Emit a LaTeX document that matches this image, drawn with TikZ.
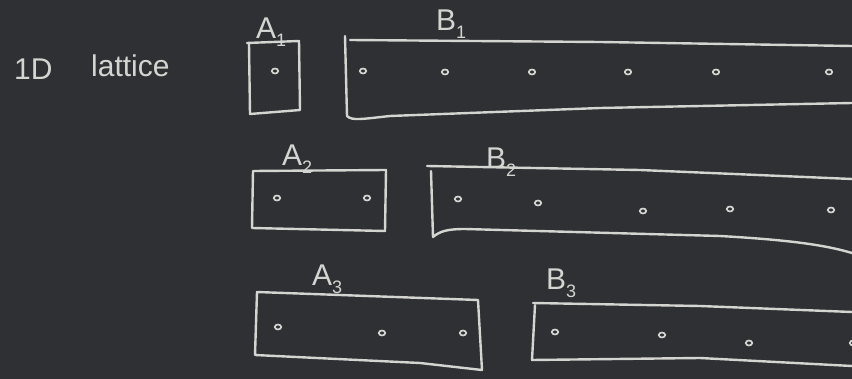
\documentclass[tikz,border=0pt]{standalone}
\usepackage{fontspec}
\setmainfont{Liberation Sans}
\definecolor{board}{RGB}{46,48,52}
\definecolor{chalk}{RGB}{212,213,208}
\newcommand{\chsub}[1]{\raisebox{-0.25em}{\fontsize{18}{19}\selectfont #1}}
\begin{document}
\begin{tikzpicture}[x=1pt,y=-1pt,
  chalkline/.style={draw=chalk, line width=2.4pt, line cap=round, line join=round},
  site/.style={draw=chalk, line width=1.7pt},
  lbl/.style={text=chalk, font=\fontsize{30}{32}\selectfont, inner sep=0pt, anchor=base west}]
\fill[board] (0,0) rectangle (852,379);
\useasboundingbox (0,0) rectangle (852,379);

% left text
\node[lbl] (oneD) at (14,80) {1D};
\node[lbl] (lat) at (91,77) {lattice};

% labels
\node[lbl] (labA1) at (256,39) {A\chsub{1}};
\node[lbl] (labB1) at (436,31) {B\chsub{1}};
\node[lbl] (labA2) at (282,166) {A\chsub{2}};
\node[lbl] (labB2) at (486,169) {B\chsub{2}};
\node[lbl] (labA3) at (312,286) {A\chsub{3}};
\node[lbl] (labB3) at (546,290) {B\chsub{3}};

% A1 box
\draw[chalkline] (247,43) -- (299,41) -- (300,110) -- (250,114) -- (249,44);
% B1 box
\draw[chalkline] (345,36) -- (347,116) .. controls (352,121) and (362,119) .. (390,116) -- (600,108) -- (852,103);
\draw[chalkline] (350,40) -- (600,42) -- (852,46);
% A2 box
\draw[chalkline] (253,171) -- (386,170) -- (385,231) -- (252,228) -- cycle;
% B2 box
\draw[chalkline] (427,166) -- (640,170) -- (852,179);
\draw[chalkline] (431,171) -- (433,237) .. controls (440,231) and (448,229) .. (465,229) -- (720,236) .. controls (790,240) and (825,245) .. (852,253);
% A3 box
\draw[chalkline] (257,292) -- (478,300) -- (482,370) -- (420,363) -- (255,355) -- cycle;
% B3 box
\draw[chalkline] (533,303) -- (700,306) -- (852,312);
\draw[chalkline] (535,305) -- (532,360) -- (700,358) -- (852,366);

% sites
\foreach \p in {(275,71),(363,71),(445,72),(532,72),(628,72),(716,72),(829,72),
                (277,198),(367,198),
                (458,199),(538,203),(643,211),(730,209),(831,210),
                (278,327),(382,333),(463,333),
                (555,332),(662,335),(749,343),(853,343)}
  \draw[site] \p ellipse [x radius=3.2, y radius=2.5];
\end{tikzpicture}
\end{document}
